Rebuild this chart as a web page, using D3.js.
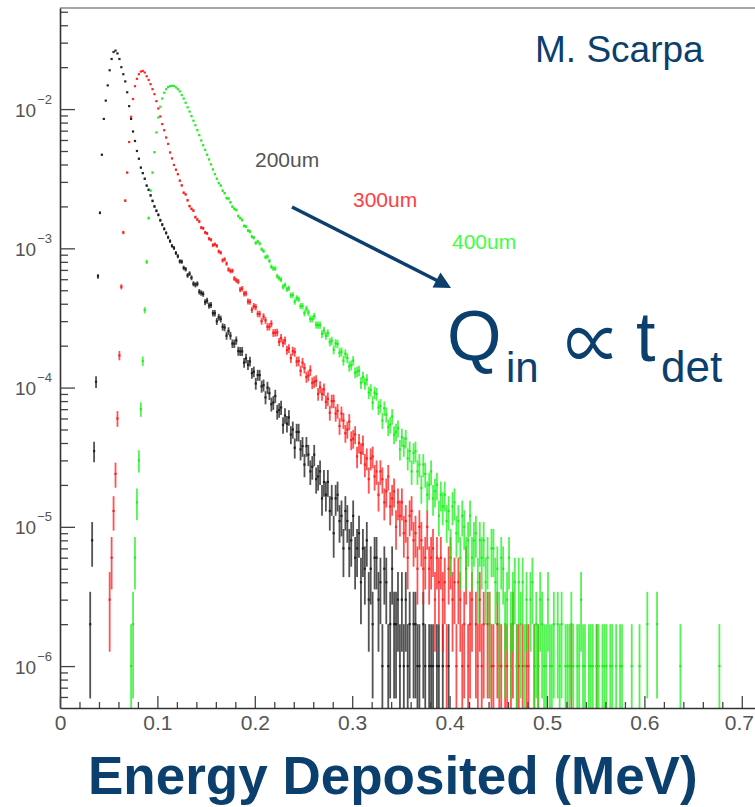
<!DOCTYPE html>
<html>
<head>
<meta charset="utf-8">
<script src="https://cdn.jsdelivr.net/npm/d3@7"></script>
<style>
  body { margin: 0; background: #fff; }
  svg { display: block; }
</style>
</head>
<body>
<svg id="chart"></svg>
<script>
// canvas
const width = 755;
const height = 807;
const plotLeft = 60, plotTop = 8, plotBottom = 708;

// histogram data: counts per 0.002 MeV bin, 1 count = 1e-6
const binWidth = 0.002;
const unit = 1e-6;

const blackStart = 0.030;
const blackCounts = [
  2, 8, 35, 110, 630, 1800, 4700, 8500, 11500, 14800,
  19000, 22900, 25700, 26300, 25100, 22900, 20000, 17800, 15800, 13200,
  10500, 8500, 6900, 5900, 5000, 4400, 3800, 3470, 3160, 2820,
  2630, 2400, 2190, 2000, 1860, 1740, 1590, 1480, 1380, 1290,
  1200, 1128, 1041, 1006, 925, 878, 806, 802, 724, 708,
  639, 658, 615, 557, 547, 556, 488, 478, 470, 411,
  421, 388, 392, 342, 342, 299, 320, 311, 273, 270,
  236, 255, 236, 207, 207, 218, 183, 182, 182, 151,
  162, 146, 154, 127, 130, 107, 123, 123, 102, 104,
  85, 100, 91, 76, 78, 87, 67, 69, 72, 54,
  63, 55, 61, 46, 50, 37, 48, 48, 36, 38,
  28, 38, 33, 25, 27, 33, 22, 23, 25, 16,
  21, 17, 21, 13, 16, 9, 16, 17, 11, 12,
  7, 13, 11, 7, 8, 12, 6, 7, 9, 4,
  7, 5, 8, 3, 5, 2, 6, 6, 3, 4,
  1, 5, 4, 1, 2, 5, 2, 2, 3, 1,
  3, 1, 3, 1, 2, 0, 2, 2, 1, 1,
  0, 2, 1, 0, 1, 1, 1, 0, 1, 1,
  0, 1, 0, 0, 1
];

const redStart = 0.050;
const redCounts = [
  3, 6, 13, 24, 60, 170, 530, 1300, 2200, 3500,
  5800, 8800, 11800, 14600, 16500, 17800, 18600, 18800, 18300, 17200,
  16200, 15100, 13900, 12800, 11400, 10100, 8850, 7800, 7050, 6250,
  5620, 4880, 4420, 3970, 3670, 3408, 3062, 2831, 2509, 2439,
  2214, 2010, 1921, 1866, 1675, 1610, 1557, 1408, 1395, 1299,
  1282, 1172, 1153, 1054, 1069, 1042, 950, 931, 820, 834,
  777, 705, 687, 689, 607, 589, 577, 506, 514, 473,
  474, 415, 413, 362, 385, 379, 338, 338, 300, 324,
  304, 273, 274, 288, 247, 248, 249, 213, 227, 209,
  218, 186, 191, 163, 183, 180, 154, 155, 132, 151,
  138, 119, 122, 133, 108, 110, 112, 90, 101, 90,
  97, 79, 83, 66, 80, 80, 65, 68, 53, 65,
  58, 47, 50, 57, 42, 43, 46, 32, 40, 34,
  39, 28, 31, 22, 31, 32, 23, 25, 17, 25,
  22, 15, 18, 23, 14, 16, 18, 10, 15, 12,
  15, 9, 11, 6, 12, 13, 8, 9, 5, 10,
  8, 5, 6, 10, 5, 6, 7, 3, 6, 4,
  6, 3, 4, 1, 5, 6, 3, 4, 1, 4,
  3, 1, 2, 5, 1, 2, 3, 0, 2, 1,
  3, 1, 2, 0, 2, 2, 1, 1, 0, 2,
  1, 1, 0, 1, 1, 0, 1, 2, 0, 1,
  1, 0, 1, 0, 1, 1, 0, 0, 1, 0,
  1, 0, 0, 0, 0, 0, 0, 0, 0, 0,
  0, 0, 0, 0, 0, 0, 0, 1, 0, 0,
  0, 0, 0, 0, 0, 0, 0, 0, 0, 0, 1
];

const greenStart = 0.072;
const greenCounts = [
  1, 2, 6, 15, 30, 70, 155, 360, 800, 1650,
  2600, 3500, 4900, 6800, 8700, 10400, 11900, 13100, 13900, 14400,
  14600, 14700, 14650, 14300, 13900, 13400, 12600, 11900, 11100, 10300,
  9600, 8900, 8250, 7650, 7050, 6500, 5950, 5500, 5100, 4700,
  4350, 4010, 3690, 3410, 3160, 2940, 2823, 2594, 2490, 2292,
  2278, 2144, 1990, 1921, 1886, 1705, 1650, 1598, 1448, 1435,
  1339, 1322, 1212, 1193, 1093, 1120, 1082, 984, 956, 864,
  873, 813, 737, 716, 716, 631, 611, 595, 530, 545,
  509, 517, 460, 462, 414, 439, 431, 385, 385, 343,
  368, 346, 311, 311, 326, 282, 281, 281, 243, 257,
  236, 246, 212, 217, 187, 208, 206, 178, 181, 156,
  175, 163, 142, 145, 156, 128, 130, 132, 108, 119,
  107, 114, 92, 96, 78, 92, 90, 72, 74, 58,
  71, 64, 52, 54, 62, 46, 48, 51, 36, 44,
  38, 43, 31, 35, 25, 34, 35, 25, 28, 19,
  28, 24, 17, 20, 25, 16, 18, 20, 12, 17,
  14, 17, 11, 13, 7, 14, 15, 9, 11, 6,
  12, 10, 6, 8, 12, 6, 8, 9, 4, 8,
  6, 8, 4, 6, 2, 7, 7, 4, 5, 2,
  6, 5, 2, 3, 6, 2, 3, 4, 1, 4,
  2, 4, 1, 3, 0, 3, 4, 1, 2, 1,
  3, 2, 1, 1, 3, 1, 1, 2, 0, 2,
  1, 2, 0, 1, 1, 1, 2, 1, 0, 1,
  1, 3, 1, 1, 0, 1, 1, 1, 0, 1,
  1, 0, 1, 1, 1, 0, 1, 1, 0, 1,
  0, 1, 1, 0, 0, 0, 0, 1, 0, 0,
  0, 1, 0, 0, 0, 2, 0, 0, 0, 0,
  2, 0, 0, 0, 0, 0, 0, 0, 0, 0,
  0, 0, 1, 0, 0, 0, 0, 0, 0, 0,
  0, 0, 0, 0, 0, 0, 0, 0, 0, 0,
  0, 0, 1
];

const seriesNames = ['200um', '300um', '400um'];
const seriesColors = ['#1a1a1a', '#ff1818', '#18f018'];
const labelColors = ['#555555', '#ff4040', '#40ff40'];

const xTickValues = [0, 0.1, 0.2, 0.3, 0.4, 0.5, 0.6, 0.7];
const xTickLabels = ['0', '0.1', '0.2', '0.3', '0.4', '0.5', '0.6', '0.7'];
const yDecades = [-6, -5, -4, -3, -2];

const blue = '#0b3f6e';
const tickFont = '"Liberation Sans", Arial, sans-serif';
const propFont = '"Noto Sans CJK JP", "DejaVu Sans", sans-serif';

let svg = d3.select('#chart')
  .attr('width', width)
  .attr('height', height);

let xScale = d3.scaleLinear()
  .domain([0, 0.72])
  .range([plotLeft, plotLeft + 974 * 0.72]);

let yScale = d3.scaleLog()
  .domain([5e-7, 0.0532])
  .range([plotBottom, plotTop]);

// clip for the histograms
svg.append('clipPath')
  .attr('id', 'plotclip')
  .append('rect')
  .attr('x', plotLeft).attr('y', plotTop)
  .attr('width', width - plotLeft).attr('height', plotBottom - plotTop);

// histograms: error bar + small marker for each filled bin
let plot = svg.append('g').attr('clip-path', 'url(#plotclip)');

[blackCounts, redCounts, greenCounts].forEach((counts, k) => {
  let start = [blackStart, redStart, greenStart][k];
  let bins = counts
    .map((c, i) => ({ e: start + (i + 0.5) * binWidth, c: c }))
    .filter(d => d.c > 0);

  let g = plot.append('g');
  g.selectAll('line')
    .data(bins)
    .enter()
    .append('line')
    .attr('x1', d => xScale(d.e))
    .attr('x2', d => xScale(d.e))
    .attr('y1', d => yScale(Math.max(d.c - Math.sqrt(d.c), 0.3) * unit))
    .attr('y2', d => yScale((d.c + Math.sqrt(d.c)) * unit))
    .attr('stroke', seriesColors[k])
    .attr('stroke-opacity', 0.75)
    .attr('stroke-width', 1.8);

  g.selectAll('rect')
    .data(bins)
    .enter()
    .append('rect')
    .attr('x', d => xScale(d.e) - 1.1)
    .attr('y', d => yScale(d.c * unit) - 1.1)
    .attr('width', 2.2)
    .attr('height', 2.2)
    .attr('fill', seriesColors[k])
    .attr('fill-opacity', 0.9);
});

// top frame line
svg.append('line')
  .attr('x1', plotLeft).attr('x2', width)
  .attr('y1', plotTop).attr('y2', plotTop)
  .attr('stroke', '#888').attr('stroke-width', 1.5);

// y axis: decade ticks and minor ticks
let minorY = [];
yDecades.concat([-7]).forEach(p => {
  for (let m = 2; m <= 9; m++) {
    let v = m * Math.pow(10, p);
    if (v > 5e-7 && v < 0.0532) minorY.push(v);
  }
});

svg.append('g')
  .attr('transform', 'translate(' + plotLeft + ',0)')
  .call(d3.axisLeft(yScale).tickValues(minorY).tickSizeInner(-8).tickSizeOuter(0).tickFormat(''))
  .call(g => g.select('.domain').remove())
  .selectAll('line').attr('stroke', '#444').attr('stroke-width', 1.3);

let yAxis = svg.append('g')
  .attr('transform', 'translate(' + plotLeft + ',0)')
  .call(d3.axisLeft(yScale)
    .tickValues(yDecades.map(p => Math.pow(10, p)))
    .tickSizeInner(-15).tickSizeOuter(0).tickFormat(''));

yAxis.select('.domain').attr('stroke', '#333').attr('stroke-width', 1.6);
yAxis.selectAll('line').attr('stroke', '#444').attr('stroke-width', 1.3);

yAxis.selectAll('.tick text').remove();
yAxis.selectAll('.tick').each(function (d, i) {
  let t = d3.select(this).append('text')
    .attr('x', -45)
    .attr('y', 7)
    .attr('text-anchor', 'start')
    .attr('fill', '#555')
    .style('font-family', tickFont)
    .style('font-size', '19px');
  t.append('tspan').text('10');
  t.append('tspan')
    .attr('dy', -13)
    .attr('dx', 1)
    .style('font-size', '13px')
    .text('\u2212' + (-yDecades[i]));
});

// x axis: ticks drawn upward, minor every 0.02
let minorX = d3.range(1, 36).map(i => i * 0.02).filter(v => Math.abs(v * 10 - Math.round(v * 10)) > 0.01);

svg.append('g')
  .attr('transform', 'translate(0,' + plotBottom + ')')
  .call(d3.axisBottom(xScale).tickValues(minorX).tickSizeInner(-6).tickSizeOuter(0).tickFormat(''))
  .call(g => g.select('.domain').remove())
  .selectAll('line').attr('stroke', '#444').attr('stroke-width', 1.3);

let xAxis = svg.append('g')
  .attr('transform', 'translate(0,' + plotBottom + ')')
  .call(d3.axisBottom(xScale)
    .tickValues(xTickValues)
    .tickSizeInner(-12).tickSizeOuter(0)
    .tickFormat((d, i) => xTickLabels[i]));

xAxis.select('.domain').attr('stroke', '#333').attr('stroke-width', 1.6);
xAxis.selectAll('line').attr('stroke', '#444').attr('stroke-width', 1.3);
xAxis.selectAll('text')
  .attr('y', 22)
  .attr('dy', 0)
  .attr('dx', (d, i) => i === xTickValues.length - 1 ? -3 : 0)
  .attr('fill', '#555')
  .style('font-family', tickFont)
  .style('font-size', '21px');

// thickness labels
const labelPos = [[255, 167], [353, 207], [452, 249]];
seriesNames.forEach((name, i) => {
  svg.append('text')
    .attr('x', labelPos[i][0])
    .attr('y', labelPos[i][1])
    .attr('fill', labelColors[i])
    .style('font-family', tickFont)
    .style('font-size', '21px')
    .text(name);
});

// arrow
svg.append('line')
  .attr('x1', 292).attr('y1', 207)
  .attr('x2', 438).attr('y2', 281)
  .attr('stroke', blue).attr('stroke-width', 3.5);
svg.append('polygon')
  .attr('points', '451,288 432.5,287.5 440.5,272.5')
  .attr('fill', blue);

// author
svg.append('text')
  .attr('x', 535).attr('y', 62)
  .attr('fill', blue)
  .style('font-family', tickFont)
  .style('font-size', '37px')
  .text('M. Scarpa');

// Q_in ∝ t_det
let f = svg.append('g').attr('fill', blue).style('font-family', tickFont);
f.append('text').attr('x', 447).attr('y', 360).style('font-size', '70px').text('Q');
f.append('text').attr('x', 506).attr('y', 382).style('font-size', '42px').text('in');
f.append('text').attr('x', 636).attr('y', 361).style('font-size', '70px').text('t');
f.append('text').attr('x', 661).attr('y', 382).style('font-size', '44px').text('det');

// fit the proportional sign into its box (567..613 x 328..360) from its ink metrics
let ctx = document.createElement('canvas').getContext('2d');
ctx.font = '100px ' + propFont;
let m = ctx.measureText('\u221D');
let inkW = m.actualBoundingBoxLeft + m.actualBoundingBoxRight;
let inkH = m.actualBoundingBoxAscent + m.actualBoundingBoxDescent;
let sx = 46 / inkW, sy = 32 / inkH;
f.append('text')
  .attr('transform', 'translate(' + (567 + m.actualBoundingBoxLeft * sx) + ',' + (328 + m.actualBoundingBoxAscent * sy) + ') scale(' + sx + ',' + sy + ')')
  .style('font-family', propFont)
  .style('font-size', '100px')
  .text('\u221D');

// x title
svg.append('text')
  .attr('x', 88).attr('y', 794)
  .attr('fill', blue)
  .style('font-family', tickFont)
  .style('font-weight', 'bold')
  .style('font-size', '53px')
  .text('Energy Deposited (MeV)');
</script>
</body>
</html>
